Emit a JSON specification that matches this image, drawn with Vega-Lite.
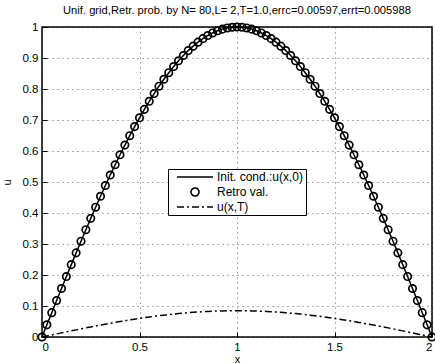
{
  "$schema": "https://vega.github.io/schema/vega-lite/v6.json",
  "autosize": {"type": "none"},
  "padding": {"left": 42, "top": 27, "right": 3, "bottom": 27},
  "width": 390,
  "height": 310,
  "title": {"text": "Unif. grid,Retr. prob. by N= 80,L=  2,T=1.0,errc=0.00597,errt=0.005988", "fontSize": 11.2, "fontWeight": "normal", "font": "Liberation Sans", "color": "black", "offset": 4, "anchor": "middle"},
  "config": {
    "view": {"stroke": "black", "strokeWidth": 1.5},
    "font": "Liberation Sans",
    "axis": {"domain": false, "grid": true, "gridColor": "black", "gridDash": [1, 4], "gridWidth": 0.8, "gridOpacity": 0.8, "tickColor": "black", "tickSize": -5, "tickWidth": 1, "labelPadding": 9, "labelFontSize": 11.5, "labelColor": "black", "labelFont": "Liberation Sans", "labelOverlap": false, "titleFont": "Liberation Sans", "titleFontSize": 11, "titleFontWeight": "normal", "titleColor": "black", "format": "~g"}
  },
  "data": {"values": [
    {"x": 0, "u": 0, "r": 0, "t": 0},
    {"x": 0.025, "u": 0.0393, "r": 0.0393, "t": 0.0033},
    {"x": 0.05, "u": 0.0785, "r": 0.0785, "t": 0.0067},
    {"x": 0.075, "u": 0.1175, "r": 0.1175, "t": 0.0100},
    {"x": 0.1, "u": 0.1564, "r": 0.1564, "t": 0.0133},
    {"x": 0.125, "u": 0.1951, "r": 0.1951, "t": 0.0165},
    {"x": 0.15, "u": 0.2334, "r": 0.2334, "t": 0.0198},
    {"x": 0.175, "u": 0.2714, "r": 0.2714, "t": 0.0230},
    {"x": 0.2, "u": 0.3090, "r": 0.3090, "t": 0.0262},
    {"x": 0.225, "u": 0.3461, "r": 0.3461, "t": 0.0294},
    {"x": 0.25, "u": 0.3827, "r": 0.3827, "t": 0.0325},
    {"x": 0.275, "u": 0.4187, "r": 0.4187, "t": 0.0355},
    {"x": 0.3, "u": 0.4540, "r": 0.4540, "t": 0.0385},
    {"x": 0.325, "u": 0.4886, "r": 0.4886, "t": 0.0414},
    {"x": 0.35, "u": 0.5225, "r": 0.5225, "t": 0.0443},
    {"x": 0.375, "u": 0.5556, "r": 0.5556, "t": 0.0471},
    {"x": 0.4, "u": 0.5878, "r": 0.5878, "t": 0.0498},
    {"x": 0.425, "u": 0.6191, "r": 0.6191, "t": 0.0525},
    {"x": 0.45, "u": 0.6494, "r": 0.6494, "t": 0.0551},
    {"x": 0.475, "u": 0.6788, "r": 0.6788, "t": 0.0576},
    {"x": 0.5, "u": 0.7071, "r": 0.7071, "t": 0.0600},
    {"x": 0.525, "u": 0.7343, "r": 0.7343, "t": 0.0623},
    {"x": 0.55, "u": 0.7604, "r": 0.7604, "t": 0.0645},
    {"x": 0.575, "u": 0.7853, "r": 0.7853, "t": 0.0666},
    {"x": 0.6, "u": 0.8090, "r": 0.8090, "t": 0.0686},
    {"x": 0.625, "u": 0.8315, "r": 0.8315, "t": 0.0705},
    {"x": 0.65, "u": 0.8526, "r": 0.8526, "t": 0.0723},
    {"x": 0.675, "u": 0.8725, "r": 0.8725, "t": 0.0740},
    {"x": 0.7, "u": 0.8910, "r": 0.8910, "t": 0.0756},
    {"x": 0.725, "u": 0.9081, "r": 0.9081, "t": 0.0770},
    {"x": 0.75, "u": 0.9239, "r": 0.9239, "t": 0.0783},
    {"x": 0.775, "u": 0.9382, "r": 0.9382, "t": 0.0796},
    {"x": 0.8, "u": 0.9511, "r": 0.9511, "t": 0.0807},
    {"x": 0.825, "u": 0.9625, "r": 0.9625, "t": 0.0816},
    {"x": 0.85, "u": 0.9724, "r": 0.9724, "t": 0.0825},
    {"x": 0.875, "u": 0.9808, "r": 0.9808, "t": 0.0832},
    {"x": 0.9, "u": 0.9877, "r": 0.9877, "t": 0.0838},
    {"x": 0.925, "u": 0.9931, "r": 0.9931, "t": 0.0842},
    {"x": 0.95, "u": 0.9969, "r": 0.9969, "t": 0.0845},
    {"x": 0.975, "u": 0.9992, "r": 0.9992, "t": 0.0847},
    {"x": 1, "u": 1, "r": 1, "t": 0.0848},
    {"x": 1.025, "u": 0.9992, "r": 0.9992, "t": 0.0847},
    {"x": 1.05, "u": 0.9969, "r": 0.9969, "t": 0.0845},
    {"x": 1.075, "u": 0.9931, "r": 0.9931, "t": 0.0842},
    {"x": 1.1, "u": 0.9877, "r": 0.9877, "t": 0.0838},
    {"x": 1.125, "u": 0.9808, "r": 0.9808, "t": 0.0832},
    {"x": 1.15, "u": 0.9724, "r": 0.9724, "t": 0.0825},
    {"x": 1.175, "u": 0.9625, "r": 0.9625, "t": 0.0816},
    {"x": 1.2, "u": 0.9511, "r": 0.9511, "t": 0.0807},
    {"x": 1.225, "u": 0.9382, "r": 0.9382, "t": 0.0796},
    {"x": 1.25, "u": 0.9239, "r": 0.9239, "t": 0.0783},
    {"x": 1.275, "u": 0.9081, "r": 0.9081, "t": 0.0770},
    {"x": 1.3, "u": 0.8910, "r": 0.8910, "t": 0.0756},
    {"x": 1.325, "u": 0.8725, "r": 0.8725, "t": 0.0740},
    {"x": 1.35, "u": 0.8526, "r": 0.8526, "t": 0.0723},
    {"x": 1.375, "u": 0.8315, "r": 0.8315, "t": 0.0705},
    {"x": 1.4, "u": 0.8090, "r": 0.8090, "t": 0.0686},
    {"x": 1.425, "u": 0.7853, "r": 0.7853, "t": 0.0666},
    {"x": 1.45, "u": 0.7604, "r": 0.7604, "t": 0.0645},
    {"x": 1.475, "u": 0.7343, "r": 0.7343, "t": 0.0623},
    {"x": 1.5, "u": 0.7071, "r": 0.7071, "t": 0.0600},
    {"x": 1.525, "u": 0.6788, "r": 0.6788, "t": 0.0576},
    {"x": 1.55, "u": 0.6494, "r": 0.6494, "t": 0.0551},
    {"x": 1.575, "u": 0.6191, "r": 0.6191, "t": 0.0525},
    {"x": 1.6, "u": 0.5878, "r": 0.5878, "t": 0.0498},
    {"x": 1.625, "u": 0.5556, "r": 0.5556, "t": 0.0471},
    {"x": 1.65, "u": 0.5225, "r": 0.5225, "t": 0.0443},
    {"x": 1.675, "u": 0.4886, "r": 0.4886, "t": 0.0414},
    {"x": 1.7, "u": 0.4540, "r": 0.4540, "t": 0.0385},
    {"x": 1.725, "u": 0.4187, "r": 0.4187, "t": 0.0355},
    {"x": 1.75, "u": 0.3827, "r": 0.3827, "t": 0.0325},
    {"x": 1.775, "u": 0.3461, "r": 0.3461, "t": 0.0294},
    {"x": 1.8, "u": 0.3090, "r": 0.3090, "t": 0.0262},
    {"x": 1.825, "u": 0.2714, "r": 0.2714, "t": 0.0230},
    {"x": 1.85, "u": 0.2334, "r": 0.2334, "t": 0.0198},
    {"x": 1.875, "u": 0.1951, "r": 0.1951, "t": 0.0165},
    {"x": 1.9, "u": 0.1564, "r": 0.1564, "t": 0.0133},
    {"x": 1.925, "u": 0.1175, "r": 0.1175, "t": 0.0100},
    {"x": 1.95, "u": 0.0785, "r": 0.0785, "t": 0.0067},
    {"x": 1.975, "u": 0.0393, "r": 0.0393, "t": 0.0033},
    {"x": 2, "u": 0, "r": 0, "t": 0}
  ]},
  "transform": [{"fold": ["u", "r", "t"], "as": ["key", "val"]}],
  "encoding": {
    "x": {"field": "x", "type": "quantitative", "title": "x", "scale": {"domain": [0, 2], "nice": false, "zero": false}, "axis": {"values": [0, 0.5, 1, 1.5, 2], "titlePadding": 1}},
    "y": {"field": "val", "type": "quantitative", "title": "u", "scale": {"domain": [0, 1], "nice": false}, "axis": {"values": [0, 0.1, 0.2, 0.3, 0.4, 0.5, 0.6, 0.7, 0.8, 0.9, 1], "titleX": -30, "titleY": 155}}
  },
  "layer": [
    {
      "transform": [{"filter": "datum.key === 'u'"}],
      "mark": {"type": "line", "strokeWidth": 1.5},
      "encoding": {
        "color": {"datum": "Init. cond.:u(x,0)", "type": "nominal",
          "scale": {"domain": ["Init. cond.:u(x,0)", "Retro val.", "u(x,T)"], "range": ["black", "black", "black"]},
          "legend": {"title": null, "orient": "none", "legendX": 126, "legendY": 142, "strokeColor": "black", "fillColor": "white", "padding": 2, "rowPadding": 1, "labelFontSize": 12, "labelFont": "Liberation Sans", "labelColor": "black", "symbolSize": 64,
            "encode": {
              "symbols": {"update": {
                "x": {"value": 25},
                "shape": {"signal": "datum.value === 'Retro val.' ? 'circle' : 'M-4.5,0H4.5'"},
                "strokeDash": {"signal": "datum.value === 'u(x,T)' ? [7,3,2,3] : [1,0]"},
                "fill": {"value": "transparent"},
                "stroke": {"value": "black"},
                "strokeWidth": {"value": 1.6},
                "opacity": {"value": 1}
              }},
              "labels": {"update": {"x": {"value": 47}}}
            }
          }}
      }
    },
    {
      "transform": [{"filter": "datum.key === 'r'"}],
      "mark": {"type": "point", "shape": "circle", "filled": false, "size": 55, "strokeWidth": 1.7, "opacity": 1},
      "encoding": {
        "color": {"datum": "Retro val.", "type": "nominal"}
      }
    },
    {
      "transform": [{"filter": "datum.key === 't'"}],
      "mark": {"type": "line", "strokeWidth": 1.5, "strokeDash": [7, 3, 2, 3]},
      "encoding": {
        "color": {"datum": "u(x,T)", "type": "nominal"}
      }
    }
  ]
}
